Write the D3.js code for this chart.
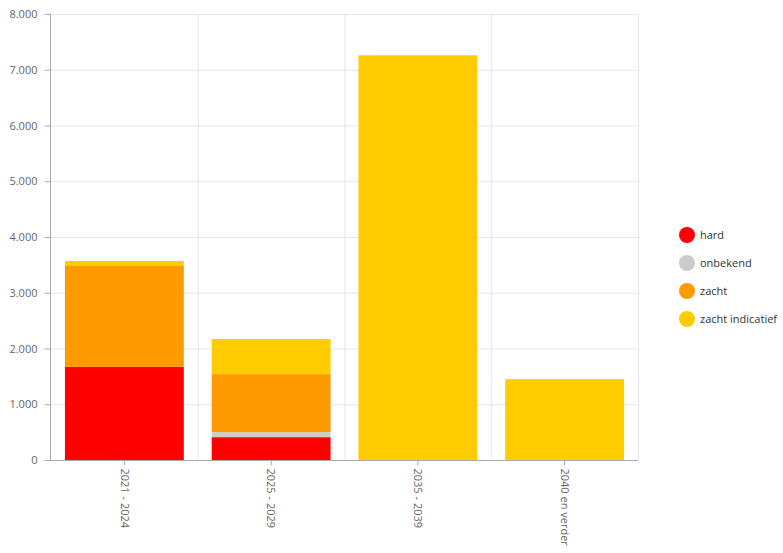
<!DOCTYPE html>
<html><head><meta charset="utf-8">
<script src="https://cdn.jsdelivr.net/npm/d3@7"></script>
<style>body{margin:0;background:#fff;} text{font-family:"Open Sans",sans-serif;}</style>
</head><body>
<svg id="c" width="783" height="553"></svg>
<script>
const categories = ["2021 - 2024", "2025 - 2029", "2035 - 2039", "2040 en verder"];
const seriesNames = ["hard", "onbekend", "zacht", "zacht indicatief"];
const seriesColors = ["#ff0000", "#cccccc", "#ff9900", "#ffcc00"];
const hard = [1670, 410, 0, 0];
const onbekend = [0, 90, 0, 0];
const zacht = [1810, 1040, 0, 0];
const zachtIndicatief = [90, 630, 7260, 1450];
const yTicks = [0, 1000, 2000, 3000, 4000, 5000, 6000, 7000, 8000];

const svg = d3.select("#c");
const m = {l: 51, r: 638, t: 14, b: 460};
const x = d3.scaleBand().domain(categories).range([m.l, m.r]).paddingInner(0.19).paddingOuter(0.095);
const xg = d3.scaleBand().domain(categories).range([m.l, m.r]);
const y = d3.scaleLinear().domain([0, 8000]).range([m.b, m.t]);

const rows = categories.map((c, i) => ({cat: c, hard: hard[i], onbekend: onbekend[i], zacht: zacht[i], "zacht indicatief": zachtIndicatief[i]}));
const stack = d3.stack().keys(seriesNames)(rows);

// grid
svg.append("g").selectAll("line").data(yTicks).join("line")
  .attr("x1", m.l).attr("x2", m.r).attr("y1", d => y(d)+0.5).attr("y2", d => y(d)+0.5)
  .attr("stroke", "#e6e6e6");
svg.append("g").selectAll("line").data(categories.slice(1).concat(["end"])).join("line")
  .attr("x1", (d,i) => (i < 3 ? xg(d) : m.r) + 0.5).attr("x2", (d,i) => (i < 3 ? xg(d) : m.r) + 0.5)
  .attr("y1", m.t).attr("y2", m.b).attr("stroke", "#e6e6e6");

// bars
svg.append("g").selectAll("g").data(stack).join("g")
  .attr("fill", (d, i) => seriesColors[i])
  .selectAll("rect").data(d => d).join("rect")
  .attr("x", d => x(d.data.cat)).attr("width", x.bandwidth())
  .attr("y", d => y(d[1])).attr("height", d => y(d[0]) - y(d[1]));

// y axis
const ya = svg.append("g").attr("transform", `translate(${m.l - 0.5},0)`)
  .call(d3.axisLeft(y).tickValues(yTicks).tickSize(6).tickPadding(7)
    .tickFormat(d => d3.format(",")(d).replace(/,/g, ".")));
ya.select(".domain").attr("stroke", "#aaa").attr("d", `M0,${m.t}V${m.b}`);
ya.selectAll(".tick line").attr("stroke", "#aaa");
ya.selectAll("text").attr("fill", "#666").attr("font-size", 11).attr("font-family", "Open Sans, sans-serif");

// x axis
const xa = svg.append("g").attr("transform", `translate(0,${m.b + 0.5})`)
  .call(d3.axisBottom(x).tickSize(5).tickSizeOuter(0));
xa.select(".domain").attr("stroke", "#aaa").attr("d", `M${m.l - 1},0H${m.r}`);
xa.selectAll(".tick line").attr("stroke", "#aaa");
xa.selectAll("text").attr("fill", "#666").attr("font-size", 11).attr("font-family", "Open Sans, sans-serif")
  .attr("transform", "rotate(90)").attr("text-anchor", "start")
  .attr("x", 8).attr("y", 0).attr("dy", "0.35em");

// legend
const lg = svg.append("g").selectAll("g").data(seriesNames).join("g")
  .attr("transform", (d, i) => `translate(687,${235 + i * 28})`);
lg.append("circle").attr("r", 8).attr("fill", (d, i) => seriesColors[i]);
lg.append("text").attr("x", 13).attr("dy", "0.35em").attr("font-size", 11).attr("fill", "#333").text(d => d);
</script>
</body></html>
